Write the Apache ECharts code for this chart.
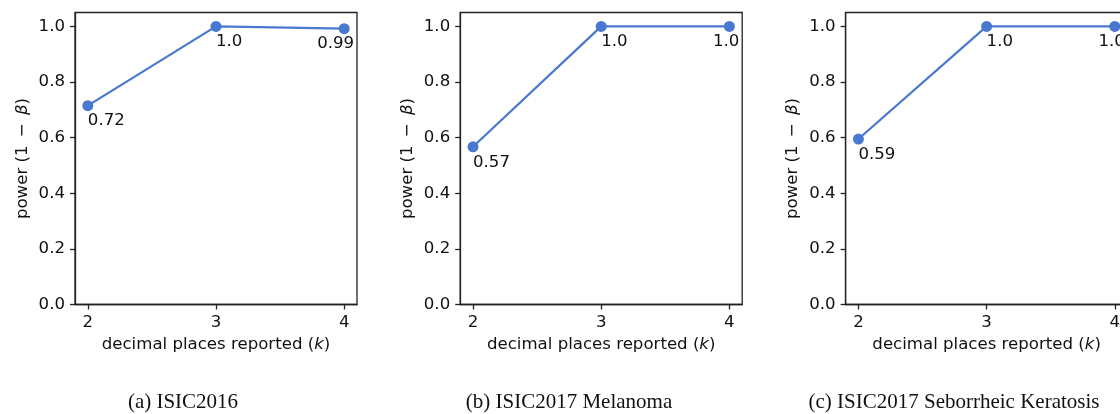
<!DOCTYPE html>
<html>
<head>
<meta charset="utf-8">
<script src="https://cdn.jsdelivr.net/npm/echarts@6/dist/echarts.min.js"></script>
<style>
html,body{margin:0;padding:0;background:#fff;}
#chart{width:1120px;height:414px;}
</style>
</head>
<body>
<div id="chart"></div>
<script>
// ---- data ----
var decimalPlaces = [2, 3, 4];
var powerISIC2016 = [0.715, 1.0, 0.992];
var labelsISIC2016 = ['0.72', '1.0', '0.99'];
var powerMelanoma = [0.567, 1.0, 1.0];
var labelsMelanoma = ['0.57', '1.0', '1.0'];
var powerKeratosis = [0.595, 1.0, 1.0];
var labelsKeratosis = ['0.59', '1.0', '1.0'];
var yTicks = [0, 0.2, 0.4, 0.6, 0.8, 1.0];
var captions = ['(a) ISIC2016', '(b) ISIC2017 Melanoma', '(c) ISIC2017 Seborrheic Keratosis'];

var panels = [
  {values: powerISIC2016, labels: labelsISIC2016},
  {values: powerMelanoma, labels: labelsMelanoma},
  {values: powerKeratosis, labels: labelsKeratosis}
];

// ---- layout / style ----
var gridLefts = [75, 460.2, 845.6];
var captionCenters = [178, 564, 949];
var FONT = 'DejaVu Sans';
var FS = 16.6;
var BLUE = '#4878CF';
var INK = '#222';

var option = {
  backgroundColor: '#fff',
  animation: false,
  grid: [], xAxis: [], yAxis: [], series: [], title: []
};

panels.forEach(function (p, k) {
  option.grid.push({
    left: gridLefts[k], top: 12.5, width: 282, height: 292,
    outerBoundsMode: 'none', containLabel: false,
    show: true, borderColor: INK, borderWidth: 1.3, backgroundColor: 'transparent'
  });
  option.xAxis.push({
    type: 'value', gridIndex: k, min: 1.9, max: 4.1,
    name: 'decimal places reported ({i|k})',
    nameLocation: 'middle', nameGap: 32,
    nameTextStyle: {fontFamily: FONT, fontSize: FS, color: '#111',
      rich: {i: {fontStyle: 'italic', fontFamily: FONT, fontSize: FS, color: '#111'}}},
    axisLine: {show: true, onZero: false, lineStyle: {color: INK, width: 1.3}},
    axisTick: {show: true, inside: false, length: 5, customValues: decimalPlaces, lineStyle: {color: INK, width: 1.3}},
    axisLabel: {show: true, customValues: decimalPlaces, margin: 10, fontFamily: FONT, fontSize: FS, color: '#111',
      formatter: function (v) { return String(v); }},
    splitLine: {show: false}
  });
  option.yAxis.push({
    type: 'value', gridIndex: k, min: 0, max: 1.05,
    name: 'power (1\u2002\u2212\u2002{i|β})',
    nameLocation: 'middle', nameGap: 44,
    nameTextStyle: {fontFamily: FONT, fontSize: FS, color: '#111',
      rich: {i: {fontStyle: 'italic', fontFamily: FONT, fontSize: FS, color: '#111'}}},
    axisLine: {show: true, onZero: false, lineStyle: {color: INK, width: 1.3}},
    axisTick: {show: true, inside: false, length: 5, customValues: yTicks, lineStyle: {color: INK, width: 1.3}},
    axisLabel: {show: true, customValues: yTicks, margin: 10, fontFamily: FONT, fontSize: FS, color: '#111',
      formatter: function (v) { return Number(v).toFixed(1); }},
    splitLine: {show: false}
  });
  var last = p.values.length - 1;
  option.series.push({
    type: 'line', xAxisIndex: k, yAxisIndex: k,
    symbol: 'circle', symbolSize: 11,
    itemStyle: {color: BLUE},
    lineStyle: {color: BLUE, width: 2.2},
    clip: false,
    data: p.values.map(function (v, i) {
      return {
        value: [decimalPlaces[i], v],
        label: {
          show: true,
          formatter: p.labels[i],
          position: i === last ? [15.5, 12.5] : [5.5, 12.5],
          align: i === last ? 'right' : 'left',
          verticalAlign: 'top',
          fontFamily: FONT, fontSize: FS, color: '#111'
        }
      };
    })
  });
  option.title.push({
    text: captions[k], left: captionCenters[k], top: 387, textAlign: 'center',
    textStyle: {fontFamily: 'Liberation Serif', fontSize: 21, fontWeight: 'normal', color: '#111'}
  });
});

var chart = echarts.init(document.getElementById('chart'), null, {renderer: 'canvas'});
chart.setOption(option);
</script>
</body>
</html>
